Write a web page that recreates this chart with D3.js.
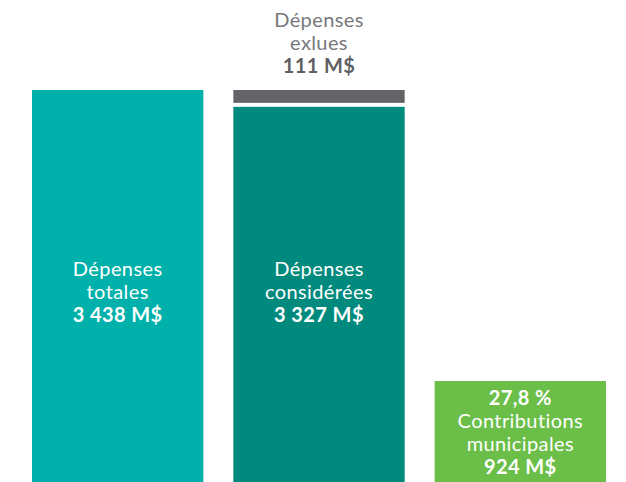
<!DOCTYPE html>
<html>
<head>
<meta charset="utf-8">
<script src="https://cdn.jsdelivr.net/npm/d3@7"></script>
<style>
  body { margin: 0; background: #fff; }
  svg { display: block; font-family: Lato, "Open Sans", sans-serif; font-variant-ligatures: none; }
</style>
</head>
<body>
<div id="chart"></div>
<script>
// categories and values (M$)
const categories = ['totales', 'considerees', 'contributions'];
const totalValue = 3438;
const excludedValue = 111;
const consideredValue = 3327;
const contribValue = 924;
const contribPct = '27,8 %';

const labelTotal = ['Dépenses', 'totales', '3 438 M$'];
const labelConsidered = ['Dépenses', 'considérées', '3 327 M$'];
const labelExcluded = ['Dépenses', 'exlues', '111 M$'];
const labelContrib = ['27,8 %', 'Contributions', 'municipales', '924 M$'];

const W = 626, H = 482;
const svg = d3.select('#chart').append('svg').attr('width', W).attr('height', H);

const x = d3.scaleBand()
  .domain(categories)
  .range([32, 606])
  .paddingInner(0.149);

// baseline sits a bit below the visible frame
const y = d3.scaleLinear().domain([0, totalValue]).range([488, 90]);

const lh = 23;
function label(cx, y0, lines, boldIdx, color, boldColor) {
  const t = svg.append('text')
    .attr('text-anchor', 'middle')
    .attr('fill', color)
    .style('font-size', '20px')
    .style('letter-spacing', '0.4px');
  lines.forEach((s, i) => {
    const b = boldIdx.includes(i);
    t.append('tspan')
      .attr('x', cx)
      .attr('y', y0 + i * lh)
      .attr('fill', b && boldColor ? boldColor : color)
      .style('font-weight', b ? 700 : 400)
      .text(s);
  });
}

// bar 1 - total
svg.append('rect')
  .attr('x', x('totales')).attr('width', x.bandwidth())
  .attr('y', y(totalValue)).attr('height', y(0) - y(totalValue))
  .attr('fill', '#00B0AA');

// bar 2 - excluded (grey) over considered
svg.append('rect')
  .attr('x', x('considerees')).attr('width', x.bandwidth())
  .attr('y', y(consideredValue + excludedValue))
  .attr('height', y(consideredValue) - y(consideredValue + excludedValue))
  .attr('fill', '#636468');
svg.append('rect')
  .attr('x', x('considerees')).attr('width', x.bandwidth())
  .attr('y', y(consideredValue) + 4)
  .attr('height', y(0) - y(consideredValue) - 4)
  .attr('fill', '#008A7D');

// bar 3 - contributions
svg.append('rect')
  .attr('x', x('contributions')).attr('width', x.bandwidth())
  .attr('y', y(contribValue)).attr('height', y(0) - y(contribValue))
  .attr('fill', '#6BBE48');

const c1 = x('totales') + x.bandwidth() / 2;
const c2 = x('considerees') + x.bandwidth() / 2;
const c3 = x('contributions') + x.bandwidth() / 2;

label(c1, 276, labelTotal, [2], '#fff');
label(c2, 276, labelConsidered, [2], '#fff');
label(c2, 27, labelExcluded, [2], '#77787B', '#5E5F63');
label(c3, y(contribValue) + 24, labelContrib, [0, 3], '#fff');
</script>
</body>
</html>
